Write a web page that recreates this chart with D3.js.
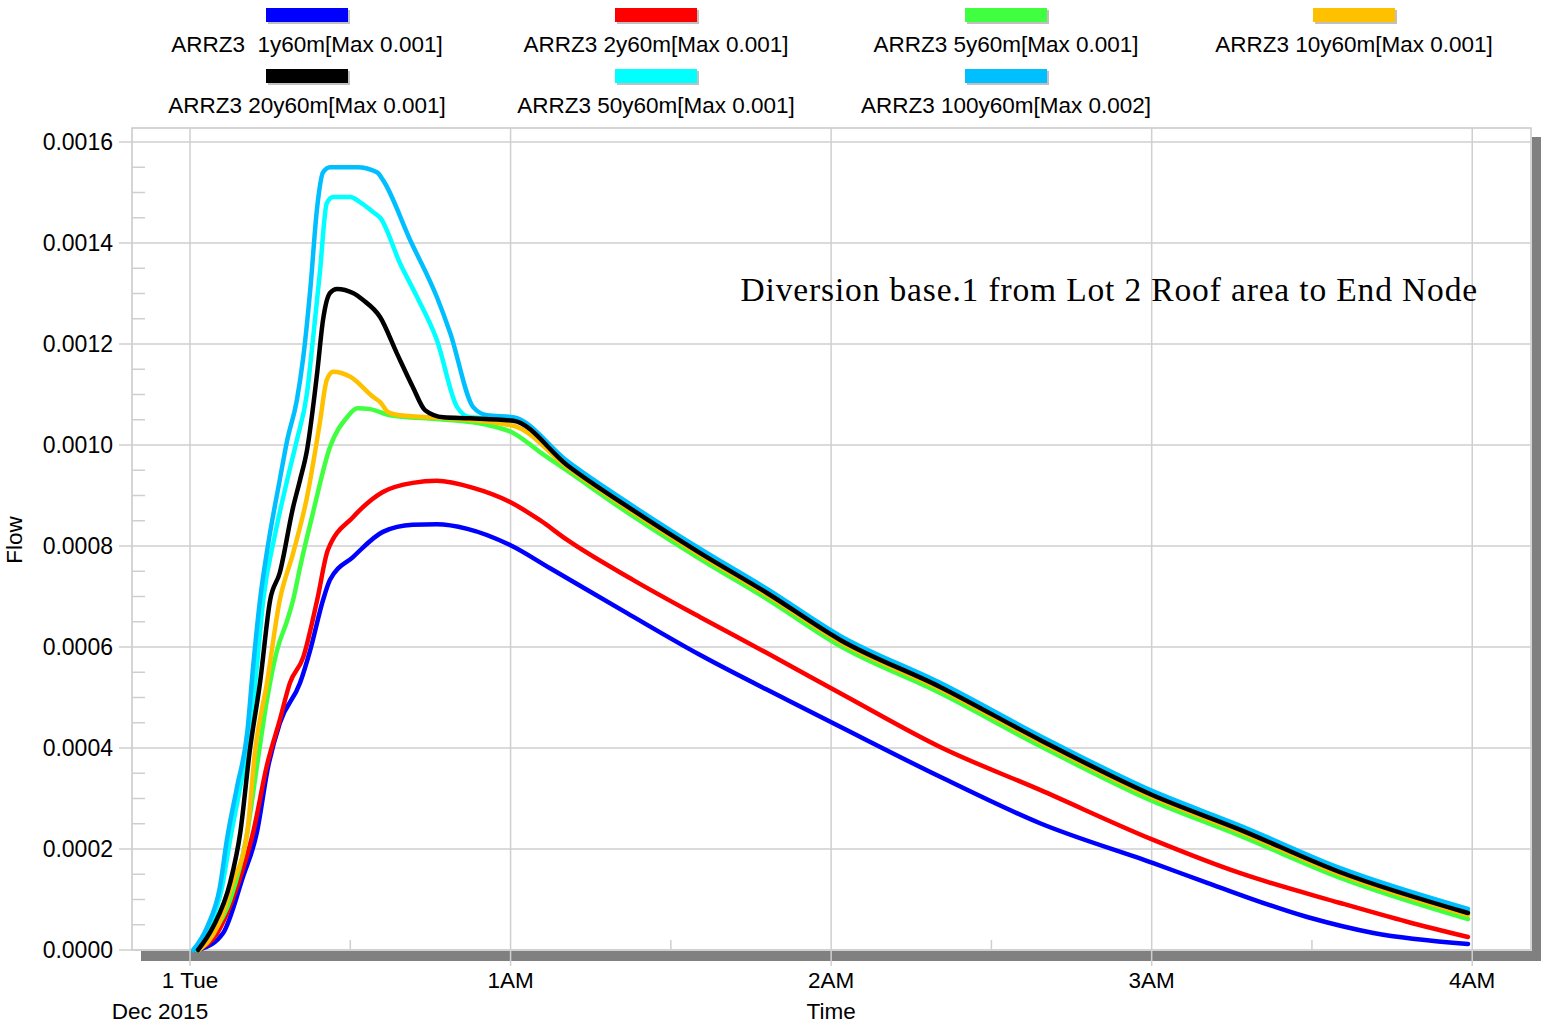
<!DOCTYPE html>
<html>
<head>
<meta charset="utf-8">
<script src="https://cdn.jsdelivr.net/npm/d3@7"></script>
<style>
  body { margin: 0; background: #fff; }
  svg text { font-family: Arial, "Liberation Sans", sans-serif; fill: #000; }
</style>
</head>
<body>
<div id="chart"></div>
<script>
"use strict";

/*** Data (time in minutes after midnight, flow) */
const seriesNames = ["ARRZ3  1y60m[Max 0.001]", "ARRZ3 2y60m[Max 0.001]", "ARRZ3 5y60m[Max 0.001]", "ARRZ3 10y60m[Max 0.001]",
                     "ARRZ3 20y60m[Max 0.001]", "ARRZ3 50y60m[Max 0.001]", "ARRZ3 100y60m[Max 0.002]"];
const seriesColors = ["#0000ff", "#ff0000", "#40ff40", "#ffc000", "#000000", "#00ffff", "#00bfff"];

const t1y = [1.1, 2, 6.2, 9.9, 12.5, 14.6, 16.8, 20.6, 22.5, 24.9, 26.2, 30.5, 36.1, 41.7, 46.2, 51.9, 59.9, 67.4, 81.8, 95.5, 111.8, 121.7, 140.4, 159.1, 180.3, 190.4, 209.1, 221.5, 239.2];
const q1y = [0, 0.000002, 0.0000337, 0.0001445, 0.000232, 0.000362, 0.000449, 0.000529, 0.000594, 0.000693, 0.000733, 0.000778, 0.000828, 0.000842, 0.000843, 0.000834, 0.000802, 0.000756, 0.000667, 0.000584, 0.000495, 0.000442, 0.000343, 0.000251, 0.000172, 0.000133, 0.0000653, 0.0000337, 0.0000119];

const t2y = [1.3, 5.1, 8.8, 11.8, 14.4, 16.8, 18.7, 21.2, 23.8, 25.8, 30.5, 36.1, 41.7, 46.2, 53.0, 59.9, 65.5, 70.6, 82.9, 95.5, 108.0, 123.0, 140.4, 159.1, 180.3, 196.6, 215.3, 227.8, 239.2];
const q2y = [0, 0.0000337, 0.000125, 0.000232, 0.000366, 0.000455, 0.000529, 0.000580, 0.000693, 0.000792, 0.000857, 0.000907, 0.000925, 0.000929, 0.000915, 0.000887, 0.000851, 0.000812, 0.000733, 0.000659, 0.000588, 0.000501, 0.000402, 0.000317, 0.000218, 0.000152, 0.0000931, 0.0000560, 0.0000257];

const t5y = [1.3, 4.3, 7.5, 10.7, 12.5, 14.4, 16.3, 18.2, 19.3, 20.6, 23.0, 26.2, 29.4, 31.3, 33.7, 37.4, 46.8, 55.6, 60.5, 65.5, 70.6, 82.9, 95.5, 108.0, 121.7, 140.4, 159.1, 180.1, 196.6, 215.3, 239.2];
const q5y = [0, 0.0000337, 0.0000990, 0.000232, 0.000362, 0.000495, 0.000594, 0.000653, 0.000693, 0.000758, 0.000865, 0.000996, 0.001055, 0.001073, 0.001071, 0.001059, 0.001051, 0.001040, 0.001024, 0.000986, 0.000949, 0.000859, 0.000774, 0.000695, 0.000602, 0.000509, 0.000404, 0.000295, 0.000226, 0.000143, 0.0000614];

const t10y = [1.7, 5.1, 8.0, 10.7, 12.2, 14.4, 16.8, 19.3, 21.9, 24.3, 25.6, 26.8, 30.0, 34.3, 35.6, 37.1, 39.3, 48.1, 60.5, 70.6, 82.9, 95.5, 108.0, 121.7, 140.4, 159.1, 180.1, 196.6, 215.3, 239.2];
const q10y = [0, 0.0000455, 0.000133, 0.000232, 0.000396, 0.000529, 0.000693, 0.000786, 0.000897, 0.001044, 0.001129, 0.001145, 0.001135, 0.001095, 0.001085, 0.001065, 0.001059, 0.001053, 0.001038, 0.000956, 0.000867, 0.000782, 0.000703, 0.000610, 0.000517, 0.000412, 0.000303, 0.000234, 0.000150, 0.0000693];

const t20y = [1.5, 4.3, 7.5, 9.4, 11.2, 13.1, 15.0, 16.8, 19.3, 20.6, 21.9, 23.8, 24.9, 26.2, 27.5, 30.5, 32.4, 35.6, 38.7, 41.7, 44.0, 47.4, 52.4, 60.5, 70.6, 82.9, 95.5, 108.0, 121.7, 140.4, 159.1, 180.1, 196.6, 215.3, 239.2];
const q20y = [0, 0.0000455, 0.000133, 0.000232, 0.000396, 0.000529, 0.000693, 0.000747, 0.000877, 0.000931, 0.000990, 0.001143, 0.001248, 0.001301, 0.001309, 0.001301, 0.001287, 0.001253, 0.001182, 0.001115, 0.001069, 0.001055, 0.001053, 0.001048, 0.000960, 0.000871, 0.000786, 0.000707, 0.000614, 0.000521, 0.000416, 0.000307, 0.000238, 0.000154, 0.0000733];

const t50y = [1.3, 3.7, 6.0, 7.5, 9.4, 11.2, 12.5, 13.7, 15.9, 18.2, 20.0, 21.9, 23.0, 24.3, 25.6, 26.8, 30.0, 31.8, 34.3, 35.6, 39.3, 42.5, 46.2, 50.0, 52.4, 60.5, 70.6, 82.9, 95.5, 108.0, 121.7, 140.4, 159.1, 180.1, 196.6, 215.3, 239.2];
const q50y = [0, 0.0000455, 0.000125, 0.000218, 0.000323, 0.000430, 0.000560, 0.000693, 0.000822, 0.000931, 0.001010, 0.001103, 0.001208, 0.001341, 0.001479, 0.001491, 0.001491, 0.001481, 0.001461, 0.001450, 0.001360, 0.001293, 0.001208, 0.001075, 0.001055, 0.001051, 0.000964, 0.000875, 0.000790, 0.000711, 0.000618, 0.000525, 0.000420, 0.000311, 0.000242, 0.000158, 0.0000772];

const t100y = [0.6, 3.2, 5.6, 6.9, 8.8, 10.7, 11.8, 13.1, 14.6, 16.8, 18.2, 20.0, 21.2, 22.5, 23.8, 24.9, 26.2, 31.3, 35.0, 36.1, 41.2, 46.2, 48.7, 53.0, 55.6, 60.5, 70.6, 82.9, 95.5, 108.0, 121.7, 140.4, 159.1, 180.1, 196.6, 215.3, 239.2];
const q100y = [0, 0.0000455, 0.000125, 0.000218, 0.000323, 0.000430, 0.000560, 0.000693, 0.000802, 0.000931, 0.001010, 0.001089, 0.001174, 0.001307, 0.001471, 0.001540, 0.001550, 0.001550, 0.001540, 0.001525, 0.001406, 0.001293, 0.001222, 0.001075, 0.001059, 0.001055, 0.000968, 0.000879, 0.000794, 0.000715, 0.000622, 0.000529, 0.000424, 0.000315, 0.000246, 0.000162, 0.0000812];

const seriesTimes = [t1y, t2y, t5y, t10y, t20y, t50y, t100y];
const seriesFlows = [q1y, q2y, q5y, q10y, q20y, q50y, q100y];

/** Axis ticks */
const xTickValues = [0, 60, 120, 180, 240];
const xTickLabels = ["1 Tue", "1AM", "2AM", "3AM", "4AM"];
const xMinorValues = [30, 90, 150, 210];
const yTickValues = [0, 0.0002, 0.0004, 0.0006, 0.0008, 0.0010, 0.0012, 0.0014, 0.0016];
const yMinorStep = 0.00005;

const annotation = "Diversion base.1 from Lot 2 Roof area to End Node";

/*** Layout */
const w = 1553;
const h = 1026;
const plotLeft = 132;
const plotRight = 1531;
const plotTop = 128;
const plotBottom = 950;

const x = d3.scaleLinear().domain([-10.86, 251.0]).range([plotLeft, plotRight]);
const y = d3.scaleLinear().domain([0, 0.0016]).range([plotBottom, 142]);

const svg = d3.select("#chart")
    .append("svg")
    .attr("width", w)
    .attr("height", h);

/** Shadow + frame */
svg.append("rect")
    .attr("x", plotLeft + 9).attr("y", plotBottom + 1)
    .attr("width", plotRight - plotLeft).attr("height", 10)
    .attr("fill", "#808080");
svg.append("rect")
    .attr("x", plotRight + 1).attr("y", plotTop + 9)
    .attr("width", 9).attr("height", plotBottom - plotTop + 2)
    .attr("fill", "#808080");
svg.append("rect")
    .attr("x", plotLeft).attr("y", plotTop)
    .attr("width", plotRight - plotLeft).attr("height", plotBottom - plotTop)
    .attr("fill", "#fff")
    .attr("stroke", "#c8c8c8")
    .attr("stroke-width", 1.5);

/** Grid */
const grid = svg.append("g").attr("stroke", "#cfcfcf").attr("stroke-width", 1.5);
grid.selectAll(".hgrid")
    .data(yTickValues)
    .enter()
    .append("line")
    .attr("x1", plotLeft - 13).attr("x2", plotRight)
    .attr("y1", d => y(d)).attr("y2", d => y(d));
grid.selectAll(".vgrid")
    .data(xTickValues)
    .enter()
    .append("line")
    .attr("x1", d => x(d)).attr("x2", d => x(d))
    .attr("y1", plotTop).attr("y2", plotBottom + 16);

/* minor ticks */
const yMinor = d3.range(0, 0.0016 + 1e-9, yMinorStep)
    .filter(v => Math.abs(v / 0.0002 - Math.round(v / 0.0002)) > 1e-6);
grid.selectAll(".yminor")
    .data(yMinor)
    .enter()
    .append("line")
    .attr("x1", plotLeft).attr("x2", plotLeft + 13)
    .attr("y1", d => y(d)).attr("y2", d => y(d));
grid.selectAll(".xminor")
    .data(xMinorValues)
    .enter()
    .append("line")
    .attr("x1", d => x(d)).attr("x2", d => x(d))
    .attr("y1", plotBottom - 10).attr("y2", plotBottom);

/** Tick labels */
svg.append("g")
    .selectAll("text")
    .data(yTickValues)
    .enter()
    .append("text")
    .attr("x", 113)
    .attr("y", d => y(d) + 8)
    .attr("text-anchor", "end")
    .style("font-size", "23px")
    .text(d => d.toFixed(4));

svg.append("g")
    .selectAll("text")
    .data(xTickValues)
    .enter()
    .append("text")
    .attr("x", d => x(d))
    .attr("y", 988)
    .attr("text-anchor", "middle")
    .style("font-size", "22.5px")
    .text((d, i) => xTickLabels[i]);

svg.append("text").attr("x", 160).attr("y", 1019).attr("text-anchor", "middle")
    .style("font-size", "22.5px").text("Dec 2015");
svg.append("text").attr("x", x(120)).attr("y", 1019).attr("text-anchor", "middle")
    .style("font-size", "22.5px").text("Time");
svg.append("text")
    .attr("transform", "translate(22,540) rotate(-90)")
    .attr("text-anchor", "middle")
    .style("font-size", "22.5px")
    .text("Flow");

/** Annotation */
svg.append("text")
    .attr("x", 1478).attr("y", 301)
    .attr("text-anchor", "end")
    .style("font-family", "'Times New Roman', 'Liberation Serif', serif")
    .style("font-size", "33.5px")
    .style("letter-spacing", "0.85px")
    .text(annotation);

/** Lines (black drawn last, as in the reference) */
const drawOrder = [0, 1, 2, 3, 5, 6, 4];
const line = d3.line()
    .x(d => x(d[0]))
    .y(d => y(d[1]))
    .curve(d3.curveMonotoneX);

svg.append("g")
    .selectAll("path")
    .data(drawOrder)
    .enter()
    .append("path")
    .attr("d", i => line(seriesTimes[i].map((t, k) => [t, seriesFlows[i][k]])))
    .attr("fill", "none")
    .attr("stroke", i => seriesColors[i])
    .attr("stroke-width", 4.5)
    .attr("stroke-linejoin", "round")
    .attr("stroke-linecap", "round");

/** Legend */
const legendCols = [307, 656, 1006, 1354];
const legend = svg.append("g").attr("id", "legend");
const items = legend.selectAll("g")
    .data(seriesNames)
    .enter()
    .append("g")
    .attr("transform", (d, i) => "translate(" + legendCols[i % 4] + "," + (Math.floor(i / 4) * 61) + ")");
items.append("rect")
    .attr("x", -39).attr("y", 10)
    .attr("width", 82).attr("height", 14)
    .attr("fill", "#c0c0c0");
items.append("rect")
    .attr("x", -41).attr("y", 8)
    .attr("width", 82).attr("height", 14)
    .attr("fill", (d, i) => seriesColors[i]);
items.append("text")
    .attr("x", 0).attr("y", 52)
    .attr("text-anchor", "middle")
    .style("font-size", "22.5px")
    .style("white-space", "pre")
    .text(d => d);
</script>
</body>
</html>
